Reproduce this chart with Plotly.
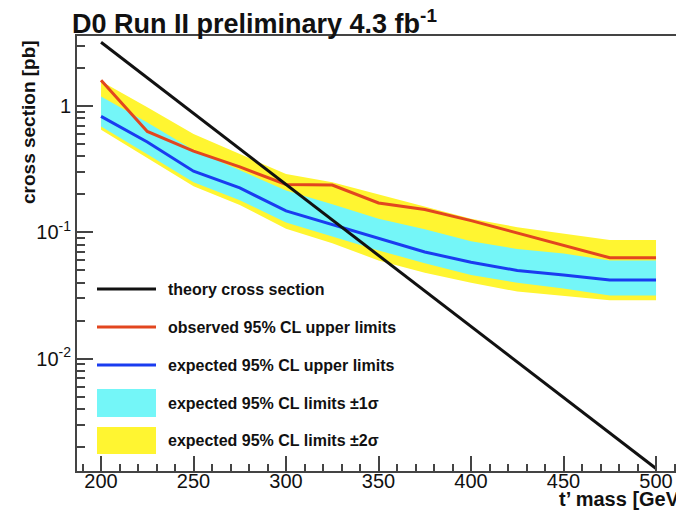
import plotly.graph_objects as go

# t' mass points (GeV) and 95% CL cross-section limits (pb)
mass = [200, 225, 250, 275, 300, 325, 350, 375, 400, 425, 450, 475, 500]
observed = [1.60, 0.63, 0.44, 0.33, 0.24, 0.237, 0.171, 0.152, 0.124, 0.099, 0.078, 0.063, 0.063]
expected = [0.83, 0.52, 0.305, 0.225, 0.148, 0.115, 0.089, 0.070, 0.058, 0.050, 0.046, 0.042, 0.042]
band1_hi = [1.19, 0.74, 0.45, 0.31, 0.215, 0.167, 0.128, 0.106, 0.085, 0.074, 0.068, 0.060, 0.060]
band1_lo = [0.69, 0.415, 0.25, 0.18, 0.12, 0.093, 0.072, 0.057, 0.046, 0.040, 0.036, 0.0316, 0.0316]
band2_hi = [1.57, 0.98, 0.60, 0.42, 0.29, 0.25, 0.20, 0.159, 0.128, 0.110, 0.098, 0.087, 0.087]
band2_lo = [0.65, 0.39, 0.232, 0.165, 0.107, 0.082, 0.060, 0.048, 0.040, 0.034, 0.0316, 0.029, 0.029]

# theory prediction
theory_mass = [200, 500]
theory_xsec = [3.2, 0.00135]

legend_labels = [
    "theory cross section",
    "observed 95% CL upper limits",
    "expected 95% CL upper limits",
    "expected 95% CL limits \u00b11\u03c3",
    "expected 95% CL limits \u00b12\u03c3",
]

BLACK = "#111111"
RED = "#e2461f"
BLUE = "#1a3cf0"
CYAN = "#74f6f8"
YELLOW = "#fff531"
FONT = "Liberation Sans"

W, H = 676, 515
ML, MR, MT, MB = 77, 0, 36, 44
PW, PH = W - ML - MR, H - MT - MB


def px_x(p):
    return (p - ML) / PW


def px_y(p):
    return (H - MB - p) / PH


fig = go.Figure()

# +-2 sigma band, then +-1 sigma band drawn over it
fig.add_trace(go.Scatter(
    x=mass + mass[::-1], y=band2_hi + band2_lo[::-1],
    fill="toself", fillcolor=YELLOW, line=dict(width=0), mode="lines",
    hoverinfo="skip", showlegend=False))
fig.add_trace(go.Scatter(
    x=mass + mass[::-1], y=band1_hi + band1_lo[::-1],
    fill="toself", fillcolor=CYAN, line=dict(width=0), mode="lines",
    hoverinfo="skip", showlegend=False))
fig.add_trace(go.Scatter(x=mass, y=expected, mode="lines",
                         line=dict(color=BLUE, width=3), showlegend=False))
fig.add_trace(go.Scatter(x=mass, y=observed, mode="lines",
                         line=dict(color=RED, width=3), showlegend=False))
fig.add_trace(go.Scatter(x=theory_mass, y=theory_xsec, mode="lines",
                         line=dict(color=BLACK, width=3), showlegend=False))

minor_y = [m * 10 ** e for e in (-3, -2, -1, 0) for m in range(2, 10)]
minor_y = [v for v in minor_y if 1.3e-3 < v < 3.6]

fig.update_layout(
    width=W, height=H,
    margin=dict(l=ML, r=MR, t=MT, b=MB),
    paper_bgcolor="white", plot_bgcolor="white",
    font=dict(family=FONT, color="#111111"),
    xaxis=dict(
        range=[187.0, 510.8], showgrid=False, zeroline=False,
        showline=True, linecolor="#444444", linewidth=2, mirror=True,
        tickmode="linear", tick0=200, dtick=50,
        ticks="inside", ticklen=15, tickwidth=1.5, tickcolor="#444444",
        ticklabelstandoff=-9,
        minor=dict(dtick=10, tick0=200, ticks="inside", ticklen=7,
                   tickwidth=1.5, tickcolor="#444444"),
        tickfont=dict(family=FONT, size=20, color="#111111"),
    ),
    yaxis=dict(
        type="log", range=[-2.889, 0.555], showgrid=False, zeroline=False,
        showline=True, linecolor="#444444", linewidth=2,
        tickvals=[0.01, 0.1, 1],
        ticktext=["10<sup>-2</sup>", "10<sup>-1</sup>", "1"],
        ticks="inside", ticklen=16, tickwidth=1.5, tickcolor="#444444",
        minor=dict(tickmode="array", tickvals=minor_y, ticks="inside",
                   ticklen=8, tickwidth=1.5, tickcolor="#444444"),
        tickfont=dict(family=FONT, size=20, color="#111111"),
    ),
)

annotations = [
    dict(text="<b>D0 Run II preliminary 4.3 fb<sup>-1</sup></b>",
         x=px_x(70), y=px_y(22), xref="paper", yref="paper",
         xanchor="left", yanchor="middle", showarrow=False,
         font=dict(family=FONT, size=27, color="#111111")),
    dict(text="<b>cross section [pb]</b>", textangle=-90,
         x=px_x(28), y=px_y(122), xref="paper", yref="paper",
         xanchor="center", yanchor="middle", showarrow=False,
         font=dict(family=FONT, size=19, color="#111111")),
    dict(text="<b>t\u2019 mass [GeV]</b>",
         x=px_x(557), y=px_y(499), xref="paper", yref="paper",
         xanchor="left", yanchor="middle", showarrow=False,
         font=dict(family=FONT, size=20, color="#111111")),
]

# legend drawn inside the frame
shapes = []
line_rows = [(289, BLACK), (327, RED), (365, BLUE)]
for ypx, col in line_rows:
    shapes.append(dict(type="line", xref="paper", yref="paper",
                       x0=px_x(97), x1=px_x(156), y0=px_y(ypx), y1=px_y(ypx),
                       line=dict(color=col, width=3)))
box_rows = [(389, 417, CYAN), (427, 454, YELLOW)]
for y0, y1, col in box_rows:
    shapes.append(dict(type="rect", xref="paper", yref="paper",
                       x0=px_x(97), x1=px_x(156), y0=px_y(y1), y1=px_y(y0),
                       fillcolor=col, line=dict(width=0)))

label_rows = [289, 327, 365, 403, 440]
for label, ypx in zip(legend_labels, label_rows):
    annotations.append(dict(text="<b>" + label + "</b>",
                            x=px_x(166), y=px_y(ypx), xref="paper", yref="paper",
                            xanchor="left", yanchor="middle", showarrow=False,
                            font=dict(family=FONT, size=16, color="#111111")))

fig.update_layout(annotations=annotations, shapes=shapes)
fig.write_html("out.html")
